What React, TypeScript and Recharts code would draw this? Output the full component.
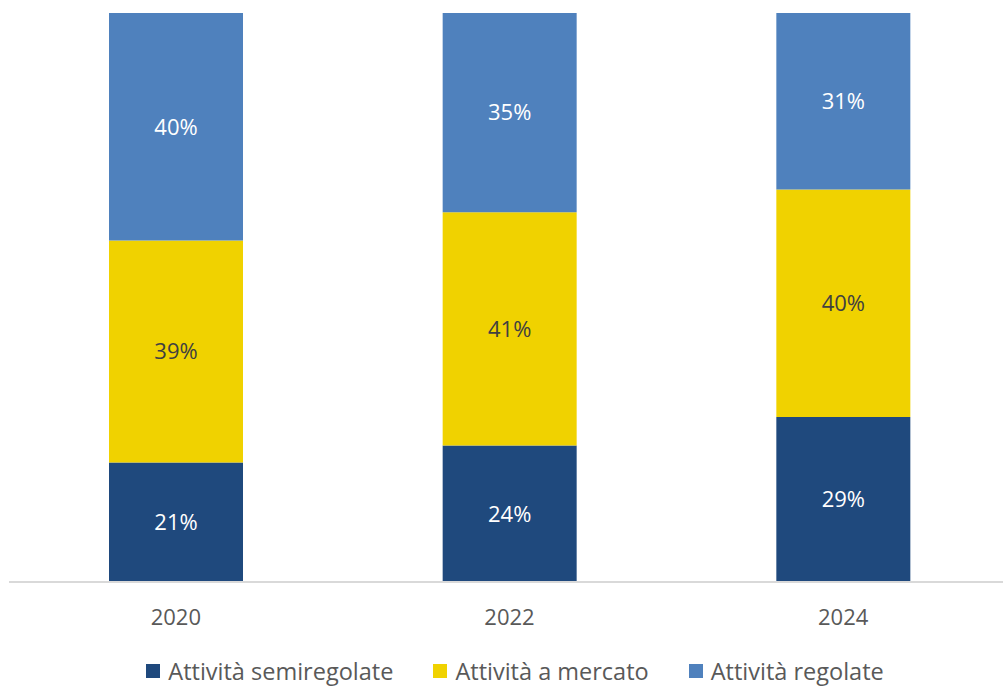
import { BarChart, Bar, XAxis, YAxis, LabelList } from "recharts";

const years = ["2020", "2022", "2024"];
const semiregolate = [21, 24, 29];
const mercato = [39, 41, 40];
const regolate = [40, 35, 31];

const seriesNames = {
  semi: "Attività semiregolate",
  mercato: "Attività a mercato",
  regolate: "Attività regolate"
};

const colors = {
  semi: "#1F497D",
  mercato: "#F0D200",
  regolate: "#4F81BD"
};

const data = years.map((year, i) => ({
  year,
  semi: semiregolate[i],
  mercato: mercato[i],
  regolate: regolate[i]
}));

const FONT = "'Open Sans', 'Noto Sans', sans-serif";

const pct = (v: any) => `${v}%`;

const LegendRow = () => (
  <div
    style={{
      position: "absolute",
      top: 655,
      left: 0,
      width: 1030,
      display: "flex",
      justifyContent: "center",
      gap: 40,
      fontFamily: FONT,
      fontSize: 23.5,
      color: "#595959"
    }}
  >
    {(["semi", "mercato", "regolate"] as const).map((k) => (
      <div key={k} style={{ display: "flex", alignItems: "center" }}>
        <span
          style={{
            width: 14,
            height: 14,
            background: colors[k],
            display: "inline-block",
            marginRight: 8
          }}
        />
        <span>{seriesNames[k]}</span>
      </div>
    ))}
  </div>
);

export default function App() {
  return (
    <div
      style={{
        position: "absolute",
        left: 0,
        top: 0,
        width: 1003,
        height: 687,
        overflow: "hidden",
        background: "#fff"
      }}
    >
      <BarChart
        width={1010}
        height={687}
        data={data}
        margin={{ top: 13, right: 0, bottom: 45, left: 9 }}
        style={{ fontFamily: FONT }}
      >
        <XAxis
          dataKey="year"
          axisLine={{ stroke: "#D9D9D9", strokeWidth: 2 }}
          tickLine={false}
          tick={{ fill: "#595959", fontSize: 22 }}
          tickMargin={21}
          height={60}
        />
        <YAxis hide domain={[0, 100]} />
        <Bar dataKey="semi" stackId="a" fill={colors.semi} barSize={134} isAnimationActive={false}>
          <LabelList dataKey="semi" position="center" formatter={pct} fill="#FFFFFF" fontSize={22} />
        </Bar>
        <Bar dataKey="mercato" stackId="a" fill={colors.mercato} barSize={134} isAnimationActive={false}>
          <LabelList dataKey="mercato" position="center" formatter={pct} fill="#404040" fontSize={22} />
        </Bar>
        <Bar dataKey="regolate" stackId="a" fill={colors.regolate} barSize={134} isAnimationActive={false}>
          <LabelList dataKey="regolate" position="center" formatter={pct} fill="#FFFFFF" fontSize={22} />
        </Bar>
      </BarChart>
      <LegendRow />
    </div>
  );
}
